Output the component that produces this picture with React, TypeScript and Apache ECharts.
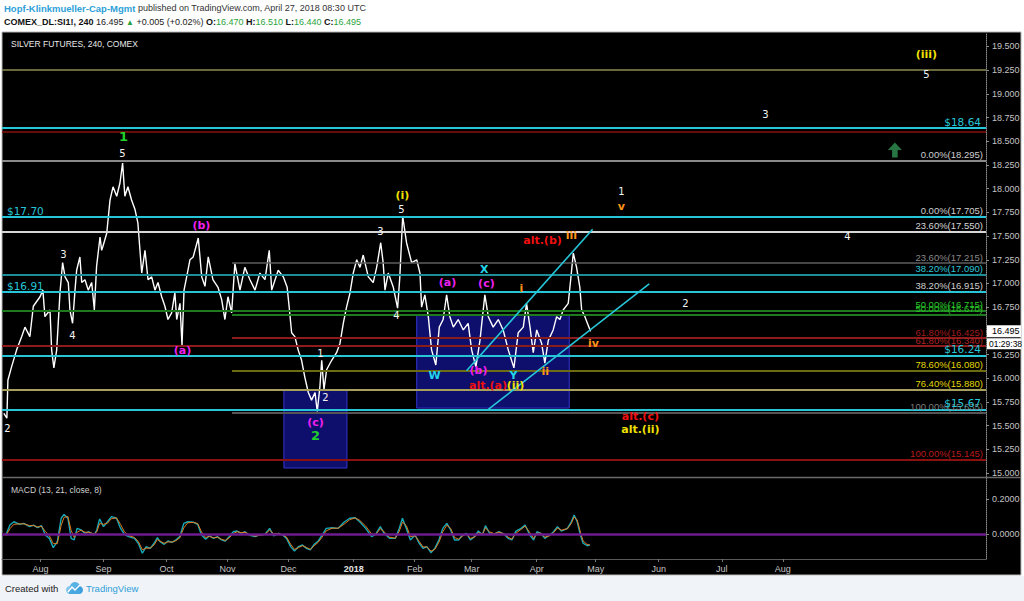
import React, { useEffect, useRef } from "react";
import * as echarts from "echarts";

// x values are days after 2017-08-01 (fractions = intraday 4h bars)
const X_MIN = -18.9;
const X_MAX = 464.9;
const Y_MIN = 14.959;
const Y_MAX = 19.642;
const M_MIN = -0.1429;
const M_MAX = 0.32;

const monthTickDays = [0, 31, 62, 92, 122, 154, 184, 212, 244, 273, 304, 335, 365];
const monthTickNames = ["Aug", "Sep", "Oct", "Nov", "Dec", "2018", "Feb", "Mar", "Apr", "May", "Jun", "Jul", "Aug"];
const priceTicks = [15, 15.25, 15.5, 15.75, 16, 16.25, 16.5, 16.75, 17, 17.25, 17.5, 17.75, 18, 18.25, 18.5, 18.75, 19, 19.25, 19.5];
const macdTicks = [0, 0.2];

const pricePath = [
  [-18.0, 15.63], [-16.5, 15.58], [-16.0, 15.98], [-14.2, 16.12], [-11.7, 16.3], [-9.2, 16.44], [-7.6, 16.54],
  [-5.2, 16.44], [-3.5, 16.76], [-0.2, 16.86], [1.2, 16.93], [2.2, 16.65], [4.7, 16.72], [5.5, 16.3], [6.6, 16.11],
  [8.0, 16.3], [9.6, 16.9], [10.9, 17.22], [12.1, 17.07], [13.7, 17.01], [14.5, 16.72], [15.8, 16.58], [17.0, 16.93],
  [17.8, 17.14], [19.4, 17.28], [20.3, 17.01], [21.9, 17.04], [23.5, 16.93], [25.2, 17.01], [26.5, 16.72],
  [27.6, 17.18], [29.3, 17.49], [30.1, 17.35], [30.7, 17.39], [32.6, 17.53], [34.2, 17.88], [35.7, 18.02],
  [37.5, 17.92], [39.1, 18.06], [40.4, 18.27], [41.5, 17.92], [43.0, 18.02], [44.8, 17.88], [46.5, 17.78],
  [47.9, 17.64], [49.8, 17.11], [51.4, 17.35], [52.9, 17.04], [54.7, 17.07], [56.3, 16.93], [57.8, 17.01],
  [59.6, 16.86], [61.2, 16.76], [62.7, 16.62], [64.5, 16.69], [66.1, 16.9], [67.0, 16.62], [68.6, 16.79],
  [69.6, 16.35], [70.6, 16.93], [71.9, 17.07], [73.5, 17.25], [75.1, 17.28], [77.6, 17.48], [79.3, 17.07],
  [80.9, 16.97], [82.5, 17.28], [84.8, 17.04], [87.3, 16.96], [89.1, 16.83], [90.7, 16.62], [92.2, 16.86],
  [94.0, 16.69], [95.6, 17.21], [98.1, 16.93], [100.5, 17.17], [103.0, 17.04], [105.5, 16.93], [107.9, 17.11],
  [110.4, 17.04], [112.5, 17.35], [113.7, 16.93], [116.9, 17.14], [119.4, 17.07], [121.3, 16.96], [122.3, 16.75],
  [123.5, 16.48], [125.1, 16.44], [126.7, 16.3], [128.4, 16.19], [130.0, 16.01], [131.7, 15.85], [133.3, 15.77],
  [135.0, 15.85], [136.1, 15.65], [137.4, 15.91], [138.3, 16.19], [139.4, 15.88], [140.7, 16.09], [143.2, 16.19],
  [145.6, 16.27], [147.3, 16.37], [148.9, 16.58], [150.5, 16.75], [152.2, 16.9], [153.8, 17.11], [155.5, 17.25],
  [157.1, 17.17], [158.7, 17.3], [161.2, 17.07], [163.6, 17.01], [165.3, 17.17], [167.3, 17.43], [168.5, 17.22],
  [169.4, 16.93], [171.0, 17.11], [173.5, 16.96], [175.6, 16.74], [176.7, 17.07], [178.1, 17.71], [180.0, 17.43],
  [182.5, 17.22], [185.0, 17.25], [186.6, 17.11], [187.4, 16.75], [189.0, 16.88], [190.7, 16.65], [192.3, 16.3],
  [194.4, 16.14], [196.1, 16.54], [198.0, 16.62], [199.7, 16.88], [201.3, 16.65], [203.0, 16.54], [205.4, 16.62],
  [207.9, 16.51], [210.3, 16.58], [212.0, 16.3], [214.1, 16.12], [216.1, 16.4], [218.5, 16.88], [220.2, 16.65],
  [222.6, 16.54], [225.1, 16.62], [227.5, 16.51], [230.0, 16.3], [232.8, 16.11], [234.9, 16.48], [237.4, 16.54],
  [239.0, 16.79], [240.7, 16.54], [242.3, 16.27], [244.0, 16.51], [246.4, 16.37], [248.0, 16.16], [249.7, 16.4],
  [252.1, 16.51], [253.8, 16.65], [255.4, 16.62], [257.0, 16.72], [259.5, 16.79], [260.7, 17.04], [262.0, 17.32],
  [263.6, 17.17], [265.2, 16.96], [266.1, 16.72], [267.7, 16.65], [269.3, 16.56], [270.5, 16.495],
];
const lastPrice = 16.495;

const macdLine = [
  [-17.0, -0.006], [-15.0, 0.051], [-13.1, 0.07], [-10.2, 0.055], [-8.2, 0.061], [-5.3, 0.042], [-3.4, 0.051],
  [-1.4, 0.036], [0.5, 0.048], [2.4, -0.006], [4.4, -0.025], [6.3, -0.078], [8.3, -0.044], [10.2, 0.09],
  [11.6, 0.112], [13.5, 0.09], [15.1, -0.025], [16.6, -0.034], [18.0, 0.032], [20.0, 0.023], [21.9, 0.004],
  [23.8, 0.013], [26.4, -0.006], [27.7, 0.023], [29.1, 0.086], [31.0, 0.042], [33.0, 0.07], [34.9, 0.099],
  [37.4, 0.09], [39.4, 0.032], [41.3, -0.002], [43.3, -0.015], [46.2, -0.025], [48.1, -0.053], [50.1, -0.11],
  [52.0, -0.072], [54.0, -0.082], [55.9, -0.053], [57.5, -0.021], [58.8, -0.044], [60.8, -0.059], [62.7, -0.04],
  [64.7, -0.048], [66.6, -0.034], [68.5, -0.015], [70.5, 0.061], [72.4, 0.07], [75.3, 0.067], [77.3, 0.055],
  [79.2, -0.006], [81.2, -0.03], [83.1, -0.01], [85.1, -0.025], [87.0, -0.015], [89.0, -0.034], [90.9, -0.04],
  [92.8, -0.015], [94.8, 0.013], [96.7, 0.017], [98.7, 0.004], [100.6, 0.013], [102.6, -0.006], [105.5, -0.015],
  [107.4, -0.006], [110.3, -0.002], [112.7, 0.032], [114.6, -0.01], [117.1, 0.004], [119.1, -0.006], [121.0, -0.025],
  [123.0, -0.072], [124.9, -0.097], [126.9, -0.072], [128.8, -0.063], [130.8, -0.082], [132.7, -0.091],
  [134.6, -0.059], [136.6, -0.04], [138.5, -0.006], [140.5, 0.032], [143.4, 0.036], [146.3, 0.032], [149.2, 0.067],
  [152.1, 0.09], [154.7, 0.093], [157.0, 0.07], [159.9, 0.032], [162.8, -0.015], [164.8, -0.002], [167.1, 0.042],
  [169.0, 0.004], [171.6, -0.025], [174.5, -0.025], [176.4, 0.032], [178.0, 0.09], [179.9, 0.032], [181.9, -0.034],
  [184.2, -0.006], [186.2, -0.053], [188.1, -0.082], [190.0, -0.072], [192.0, -0.107], [193.9, -0.082],
  [195.9, -0.034], [197.8, 0.032], [199.8, 0.061], [201.7, 0.023], [203.6, -0.034], [205.6, -0.034], [207.5, -0.006],
  [209.5, 0.004], [211.4, -0.034], [213.4, -0.015], [215.3, 0.017], [217.3, -0.006], [218.8, 0.048], [220.8, 0.004],
  [223.1, -0.002], [225.4, 0.013], [228.0, -0.002], [229.9, -0.025], [231.8, -0.034], [233.8, 0.017], [236.3, 0.032],
  [238.3, 0.051], [240.6, -0.006], [242.5, -0.034], [244.1, 0.013], [246.0, 0.004], [248.0, -0.025], [250.3, -0.006],
  [252.3, 0.013], [254.2, 0.042], [256.1, 0.017], [259.1, 0.032], [261.0, 0.07], [262.4, 0.109], [263.9, 0.07],
  [265.5, -0.006], [266.8, -0.053], [268.8, -0.067], [270.1, -0.063],
];

const signalLine = [
  [-17.0, -0.01], [-15.0, 0.03], [-13.1, 0.055], [-10.2, 0.058], [-8.2, 0.058], [-5.3, 0.048], [-3.4, 0.048],
  [-1.4, 0.04], [0.5, 0.044], [2.4, 0.015], [4.4, -0.01], [6.3, -0.055], [8.3, -0.055], [10.2, 0.05], [11.6, 0.095],
  [13.5, 0.1], [15.1, 0.02], [16.6, -0.02], [18.0, 0.01], [20.0, 0.022], [21.9, 0.01], [23.8, 0.01], [26.4, 0.0],
  [27.7, 0.012], [29.1, 0.06], [31.0, 0.055], [33.0, 0.062], [34.9, 0.088], [37.4, 0.092], [39.4, 0.055],
  [41.3, 0.012], [43.3, -0.008], [46.2, -0.02], [48.1, -0.042], [50.1, -0.09], [52.0, -0.082], [54.0, -0.08],
  [55.9, -0.062], [57.5, -0.032], [58.8, -0.04], [60.8, -0.053], [62.7, -0.045], [64.7, -0.046], [66.6, -0.038],
  [68.5, -0.022], [70.5, 0.035], [72.4, 0.064], [75.3, 0.066], [77.3, 0.06], [79.2, 0.012], [81.2, -0.02],
  [83.1, -0.014], [85.1, -0.022], [87.0, -0.018], [89.0, -0.03], [90.9, -0.037], [92.8, -0.022], [94.8, 0.002],
  [96.7, 0.013], [98.7, 0.008], [100.6, 0.01], [102.6, -0.002], [105.5, -0.012], [107.4, -0.008], [110.3, -0.003],
  [112.7, 0.022], [114.6, 0.002], [117.1, 0.002], [119.1, -0.004], [121.0, -0.018], [123.0, -0.058], [124.9, -0.088],
  [126.9, -0.078], [128.8, -0.067], [130.8, -0.077], [132.7, -0.088], [134.6, -0.067], [136.6, -0.047],
  [138.5, -0.018], [140.5, 0.018], [143.4, 0.033], [146.3, 0.033], [149.2, 0.055], [152.1, 0.082], [154.7, 0.092],
  [157.0, 0.078], [159.9, 0.045], [162.8, 0.0], [164.8, -0.003], [167.1, 0.03], [169.0, 0.012], [171.6, -0.018],
  [174.5, -0.024], [176.4, 0.015], [178.0, 0.068], [179.9, 0.048], [181.9, -0.015], [184.2, -0.01], [186.2, -0.042],
  [188.1, -0.074], [190.0, -0.074], [192.0, -0.098], [193.9, -0.088], [195.9, -0.048], [197.8, 0.012], [199.8, 0.05],
  [201.7, 0.032], [203.6, -0.02], [205.6, -0.03], [207.5, -0.012], [209.5, 0.0], [211.4, -0.025], [213.4, -0.018],
  [215.3, 0.008], [217.3, -0.002], [218.8, 0.035], [220.8, 0.012], [223.1, 0.002], [225.4, 0.01], [228.0, 0.002],
  [229.9, -0.018], [231.8, -0.03], [233.8, 0.005], [236.3, 0.026], [238.3, 0.045], [240.6, 0.008], [242.5, -0.025],
  [244.1, 0.005], [246.0, 0.004], [248.0, -0.018], [250.3, -0.01], [252.3, 0.008], [254.2, 0.034], [256.1, 0.022],
  [259.1, 0.03], [261.0, 0.06], [262.4, 0.098], [263.9, 0.08], [265.5, 0.01], [266.8, -0.04], [268.8, -0.06],
  [270.1, -0.062],
];

// user drawn horizontal price lines
const supportPrices = [18.64, 17.7, 16.91, 16.24, 15.67];
const supportTexts = ["$18.64", "$17.70", "$16.91", "$16.24", "$15.67"];
// first Fibonacci retracement (drawn from the left edge)
const fibAPrices = [18.295, 17.55, 17.09, 16.715, 16.34, 15.88, 15.145];
const fibATexts = ["0.00%(18.295)", "23.60%(17.550)", "38.20%(17.090)", "50.00%(16.715)", "61.80%(16.340)", "76.40%(15.880)", "100.00%(15.145)"];
// second Fibonacci retracement (starts in October)
const fibBStart = 94.2;
const fibBPrices = [17.705, 17.215, 16.915, 16.67, 16.425, 16.08, 15.635];
const fibBTexts = ["0.00%(17.705)", "23.60%(17.215)", "38.20%(16.915)", "50.00%(16.670)", "61.80%(16.425)", "78.60%(16.080)", "100.00%(15.635)"];
const plainLevelPrices = [19.25, 18.6];

const boxes = [
  [[119.7, 15.876], [150.7, 15.054]],
  [[185.0, 16.668], [260.0, 15.686]],
];
const channelA = [[209.5, 16.08], [271.5, 17.572]];
const channelB = [[220.2, 15.673], [299.3, 16.995]];
const arrowPoint = [420.1, 18.408];

// [text, day, price, kind]
const waveLabels: [string, number, number, string][] = [
  ["2", -16.0, 15.465, "w"], ["3", 11.6, 17.3, "w"], ["4", 16.0, 16.446, "w"], ["5", 40.6, 18.366, "w"],
  ["1", 41.1, 18.545, "G"], ["(b)", 79.4, 17.606, "m"], ["(a)", 70.1, 16.288, "m"], ["(c)", 135.5, 15.528, "m"],
  ["2", 135.5, 15.391, "G"], ["1", 137.9, 16.256, "w"], ["2", 140.4, 15.792, "w"], ["3", 167.4, 17.543, "w"],
  ["4", 175.3, 16.657, "w"], ["5", 177.7, 17.775, "w"], ["(i)", 178.2, 17.923, "y"], ["(a)", 200.4, 17.005, "m"],
  ["X", 218.5, 17.142, "c"], ["(c)", 219.5, 16.995, "m"], ["W", 194.0, 16.024, "c"], ["(b)", 215.6, 16.077, "m"],
  ["Y", 232.8, 16.024, "c"], ["alt.(a)", 220.3, 15.919, "r"], ["(ii)", 233.8, 15.919, "y"], ["i", 236.7, 16.942, "o"],
  ["ii", 248.5, 16.066, "o"], ["iii", 261.3, 17.5, "o"], ["alt.(b)", 247.1, 17.448, "r"], ["iv", 272.1, 16.362, "o"],
  ["1", 285.9, 17.965, "w"], ["v", 285.9, 17.807, "o"], ["2", 317.4, 16.784, "w"], ["3", 356.7, 18.777, "w"],
  ["4", 397.0, 17.49, "w"], ["5", 435.8, 19.199, "w"], ["(iii)", 435.8, 19.41, "y"], ["alt.(c)", 295.2, 15.592, "r"],
  ["alt.(ii)", 295.2, 15.455, "y"],
];

// ---------- styles ----------
const FONT = "'Liberation Sans', Arial, sans-serif";
const VFONT = "'DejaVu Sans', Verdana, sans-serif";
const CYAN = "#26c6d8";
const supportSides = ["insideEndTop", "insideStartTop", "insideStartTop", "insideEndTop", "insideEndTop"];
const fibALine = ["#8a8a8a", "#d6d6d6", "#1d8d98", "#1f7a1f", "#8b1c1c", "#a6a05a", "#8b1010"];
const fibAText = ["#cfcfcf", "#d6d6d6", "#2ec6d6", "#2ac42a", "#b02222", "#e2d600", "#bb1a1a"];
const fibBLine = [CYAN, "#5e5e5e", CYAN, "#1f7a1f", "#8b1c1c", "#6e6c12", "#555555"];
const fibBText = ["#cfcfcf", "#8a8a8a", "#cfcfcf", "#2ac42a", "#a01a1a", "#e2d600", "#7c7c7c"];
const plainLevelColors = ["#8c8a50", "#8b0f0f"];
const kindStyle: Record<string, any> = {
  w: { color: "#f4f4f4", fontSize: 10, fontWeight: "normal" },
  G: { color: "#1fd02a", fontSize: 13, fontWeight: "bold" },
  m: { color: "#f020f0", fontSize: 11, fontWeight: "bold" },
  y: { color: "#f2e000", fontSize: 11, fontWeight: "bold" },
  c: { color: "#22d4e8", fontSize: 11, fontWeight: "bold" },
  o: { color: "#ff9418", fontSize: 11, fontWeight: "bold" },
  r: { color: "#f01010", fontSize: 11, fontWeight: "bold" },
};

function levelLine(x0: number, price: number, color: string, width: number, text: string | null, textColor: string, pos: string) {
  return [
    {
      coord: [x0, price],
      lineStyle: { color, width, type: "solid" },
      label: text
        ? { show: true, formatter: text, position: pos, color: textColor, fontSize: 9.5, fontFamily: FONT, distance: [3, 1] }
        : { show: false },
    },
    { coord: [X_MAX, price] },
  ];
}

function buildOption() {
  const levelData: any[] = [];
  plainLevelPrices.forEach((p, i) => levelData.push(levelLine(X_MIN, p, plainLevelColors[i], 1.5, null, "", "")));
  fibAPrices.forEach((p, i) => levelData.push(levelLine(X_MIN, p, fibALine[i], 2, fibATexts[i], fibAText[i], "insideEndTop")));
  fibBPrices.forEach((p, i) => levelData.push(levelLine(fibBStart, p, fibBLine[i], i === 1 ? 1.5 : 2, fibBTexts[i], fibBText[i], "insideEndTop")));
  const supportData: any[] = supportPrices.map((p, i) => [
    {
      coord: [X_MIN, p],
      lineStyle: { color: CYAN, width: 2, type: "solid" },
      label: { show: true, formatter: supportTexts[i], position: supportSides[i], color: CYAN, fontSize: 10.5, fontFamily: VFONT, distance: [5, 1] },
    },
    { coord: [X_MAX, p] },
  ]);

  const labelData = waveLabels.map(([t, d, p, k]) => ({
    value: [d, p],
    label: {
      show: true, formatter: t, position: [0, 0], align: "center", verticalAlign: "middle", fontFamily: VFONT,
      textBorderWidth: 0, opacity: 1, ...kindStyle[k],
    },
  }));

  const yLine = { show: true, onZero: false, lineStyle: { color: "#8a8a8a", type: "dotted" } };

  return {
    animation: false,
    backgroundColor: "#ffffff",
    grid: [
      { left: 2, top: 33, width: 984, height: 444 },
      { left: 2, top: 478, width: 984, height: 81 },
    ],
    xAxis: [
      { gridIndex: 0, type: "value", min: X_MIN, max: X_MAX, show: false },
      {
        gridIndex: 1, type: "value", min: X_MIN, max: X_MAX,
        axisLine: { show: true, onZero: false, lineStyle: { color: "#5a5a5a" } },
        axisTick: { show: true, customValues: monthTickDays, length: 3, lineStyle: { color: "#777" } },
        axisLabel: {
          customValues: monthTickDays, color: "#c4c4c4", fontSize: 9, fontFamily: FONT, margin: 5,
          formatter: (v: number) => {
            const n = monthTickNames[monthTickDays.indexOf(v)] || "";
            return n === "2018" ? "{b|2018}" : n;
          },
          rich: { b: { fontWeight: "bold", color: "#e6e6e6", fontSize: 9, fontFamily: FONT } },
        },
        splitLine: { show: false },
      },
    ],
    yAxis: [
      {
        gridIndex: 0, type: "value", position: "right", min: Y_MIN, max: Y_MAX,
        axisLine: yLine,
        axisTick: { show: true, customValues: priceTicks, length: 3, lineStyle: { color: "#8a8a8a" } },
        axisLabel: { customValues: priceTicks, formatter: (v: number) => v.toFixed(3), color: "#c4c4c4", fontSize: 9, fontFamily: FONT, margin: 6 },
        splitLine: { show: false },
      },
      {
        gridIndex: 1, type: "value", position: "right", min: M_MIN, max: M_MAX,
        axisLine: yLine,
        axisTick: { show: true, customValues: macdTicks, length: 3, lineStyle: { color: "#8a8a8a" } },
        axisLabel: { customValues: macdTicks, formatter: (v: number) => v.toFixed(4), color: "#c4c4c4", fontSize: 9, fontFamily: FONT, margin: 6 },
        splitLine: { show: false },
      },
    ],
    series: [
      {
        name: "levels", type: "line", xAxisIndex: 0, yAxisIndex: 0, data: [], z: 2, silent: true,
        markLine: { symbol: ["none", "none"], silent: true, animation: false, data: levelData },
      },
      {
        name: "support", type: "line", xAxisIndex: 0, yAxisIndex: 0, data: [], z: 2, silent: true,
        markLine: { symbol: ["none", "none"], silent: true, animation: false, data: supportData },
      },
      {
        name: "boxes", type: "line", xAxisIndex: 0, yAxisIndex: 0, data: [], z: 3, silent: true,
        markArea: {
          silent: true,
          itemStyle: { color: "rgba(22,22,175,0.62)", borderColor: "#3434d0", borderWidth: 1 },
          data: boxes.map(([a, b]) => [{ coord: a }, { coord: b }]),
        },
      },
      {
        name: "price", type: "line", xAxisIndex: 0, yAxisIndex: 0, data: pricePath, z: 4,
        showSymbol: false, symbol: "none", lineStyle: { color: "#ffffff", width: 1.4 },
      },
      {
        name: "channelA", type: "line", xAxisIndex: 0, yAxisIndex: 0, data: channelA, z: 5,
        showSymbol: false, symbol: "none", lineStyle: { color: CYAN, width: 1.6 },
      },
      {
        name: "channelB", type: "line", xAxisIndex: 0, yAxisIndex: 0, data: channelB, z: 5,
        showSymbol: false, symbol: "none", lineStyle: { color: CYAN, width: 1.6 },
      },
      {
        name: "waves", type: "scatter", xAxisIndex: 0, yAxisIndex: 0, z: 6, symbolSize: 1,
        itemStyle: { color: "rgba(0,0,0,0)" }, emphasis: { disabled: true }, data: labelData, silent: true,
      },
      {
        name: "arrow", type: "scatter", xAxisIndex: 0, yAxisIndex: 0, z: 6,
        symbol: "path://M5,0 L10,6 L7,6 L7,12 L3,12 L3,6 L0,6 Z", symbolSize: [14, 15],
        itemStyle: { color: "#2f9254" }, data: [arrowPoint], silent: true,
      },
      {
        name: "zero", type: "line", xAxisIndex: 1, yAxisIndex: 1, data: [], z: 1, silent: true,
        markLine: {
          symbol: ["none", "none"], silent: true, animation: false, label: { show: false },
          data: [[{ coord: [X_MIN, 0], lineStyle: { color: "#6d1b8f", width: 2.5, type: "solid" } }, { coord: [X_MAX, 0] }]],
        },
      },
      {
        name: "MACD", type: "line", xAxisIndex: 1, yAxisIndex: 1, data: macdLine, z: 3,
        showSymbol: false, symbol: "none", lineStyle: { color: "#15a9ba", width: 1.4 },
      },
      {
        name: "Signal", type: "line", xAxisIndex: 1, yAxisIndex: 1, data: signalLine, z: 4,
        showSymbol: false, symbol: "none", lineStyle: { color: "#e07b1e", width: 1 },
      },
    ],
    graphic: [
      { id: "bg", type: "rect", z: -10, silent: true, shape: { x: 2, y: 32, width: 1019, height: 543 }, style: { fill: "#000000", stroke: "#b4b4b4", lineWidth: 1 } },
      { id: "foot", type: "rect", z: -10, silent: true, shape: { x: 0, y: 576, width: 1024, height: 25 }, style: { fill: "#f0f3f7" } },
      { id: "sep", type: "line", z: 10, silent: true, shape: { x1: 2, y1: 477.5, x2: 1021, y2: 477.5 }, style: { stroke: "#6a6a6a", lineWidth: 1.5 } },
      {
        id: "h1", type: "text", x: 4, y: 8, silent: true,
        style: {
          text: "{a|Hopf-Klinkmueller-Cap-Mgmt}{b| published on TradingView.com, April 27, 2018 08:30 UTC}",
          verticalAlign: "middle",
          rich: {
            a: { fill: "#2e9fd8", fontSize: 9.5, fontFamily: FONT, fontWeight: "bold" },
            b: { fill: "#333333", fontSize: 9, fontFamily: FONT },
          },
        },
      },
      {
        id: "h2", type: "text", x: 4, y: 22, silent: true,
        style: {
          text: "{k|COMEX_DL:SI1!, 240} {n|16.495} {t|▲} {n|+0.005 (+0.02%)} {k|O:}{g|16.470} {k|H:}{g|16.510} {k|L:}{g|16.440} {k|C:}{g|16.495}",
          verticalAlign: "middle",
          fontSize: 9, fontFamily: FONT,
          rich: {
            k: { fill: "#111111", fontSize: 9, fontFamily: FONT, fontWeight: "bold" },
            n: { fill: "#222222", fontSize: 9, fontFamily: FONT },
            g: { fill: "#29a33b", fontSize: 9, fontFamily: FONT },
            t: { fill: "#29a33b", fontSize: 8, fontFamily: FONT },
          },
        },
      },
      { id: "title", type: "text", x: 11, y: 44, silent: true, style: { text: "SILVER FUTURES, 240, COMEX", fill: "#e8e8e8", fontSize: 8.5, fontFamily: FONT, verticalAlign: "middle" } },
      { id: "mtitle", type: "text", x: 11, y: 490, silent: true, style: { text: "MACD (13, 21, close, 8)", fill: "#d0d0d0", fontSize: 8.5, fontFamily: FONT, verticalAlign: "middle" } },
      { id: "created", type: "text", x: 5, y: 588, silent: true, style: { text: "Created with", fill: "#222222", fontSize: 9.5, fontFamily: FONT, verticalAlign: "middle" } },
      {
        id: "logo", type: "group", x: 65, y: 581, silent: true,
        children: [
          { type: "circle", shape: { cx: 5, cy: 9, r: 4 }, style: { fill: "#7cc4ea" } },
          { type: "circle", shape: { cx: 10, cy: 6, r: 5 }, style: { fill: "#58b2e4" } },
          { type: "circle", shape: { cx: 14, cy: 9, r: 4 }, style: { fill: "#3a9fdc" } },
          { type: "rect", shape: { x: 4, y: 9, width: 11, height: 4 }, style: { fill: "#4aa8e0" } },
          { type: "polyline", shape: { points: [[3, 11], [7, 6], [10, 9], [15, 4]] }, style: { stroke: "#ffffff", lineWidth: 1.4, fill: null } },
        ],
      },
      { id: "tv", type: "text", x: 86, y: 588, silent: true, style: { text: "TradingView", fill: "#2e9fd8", fontSize: 9.5, fontFamily: FONT, verticalAlign: "middle" } },
    ],
  };
}

export default function App() {
  const ref = useRef<HTMLDivElement>(null);
  useEffect(() => {
    if (!ref.current) return;
    const chart = echarts.init(ref.current, null, { renderer: "svg" });
    chart.setOption(buildOption() as any);
    const last = pricePath[pricePath.length - 1];
    const pt = chart.convertToPixel({ gridIndex: 0 } as any, [last[0], lastPrice]) as number[];
    const py = pt[1];
    chart.setOption({
      graphic: [
        { id: "ptagbox", type: "rect", z: 20, silent: true, shape: { x: 987, y: py - 6, width: 34, height: 12 }, style: { fill: "#ffffff" } },
        { id: "ptag", type: "text", z: 21, silent: true, x: 992, y: py, style: { text: lastPrice.toFixed(3), fill: "#000000", fontSize: 9, fontFamily: FONT, verticalAlign: "middle" } },
        { id: "ttagbox", type: "rect", z: 20, silent: true, shape: { x: 987, y: py + 7, width: 34, height: 11 }, style: { fill: "#ffffff" } },
        { id: "ttag", type: "text", z: 21, silent: true, x: 989, y: py + 12.5, style: { text: "01:29:38", fill: "#000000", fontSize: 8.5, fontFamily: FONT, verticalAlign: "middle" } },
      ],
    } as any);
    return () => chart.dispose();
  }, []);
  return <div ref={ref} style={{ position: "absolute", left: 0, top: 0, width: 1024, height: 601 }} />;
}
